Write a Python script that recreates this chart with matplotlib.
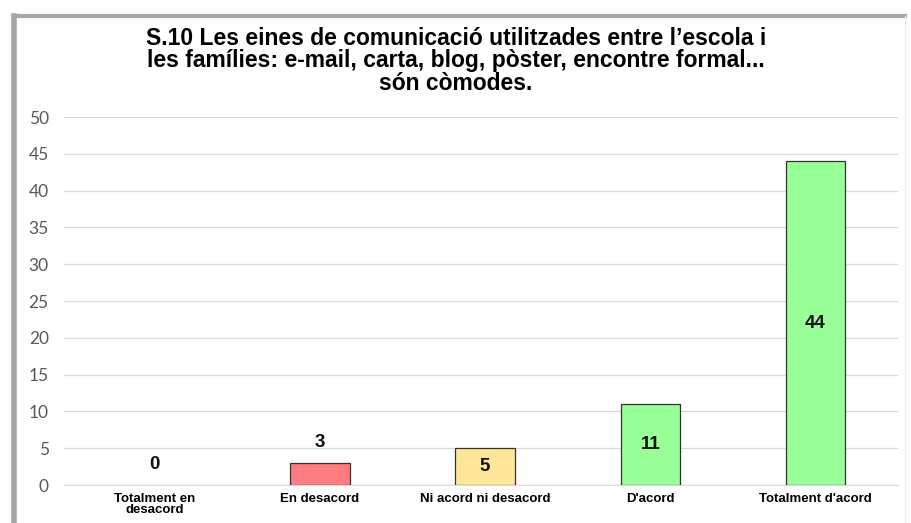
import matplotlib.pyplot as plt
from matplotlib.lines import Line2D

# ===== 数据 =====
categories = ["Totalment en\ndesacord", "En desacord", "Ni acord ni desacord", "D'acord", "Totalment d'acord"]
values = [0, 3, 5, 11, 44]
colors = ["#FF7C80", "#FF7C80", "#FFE699", "#99FF99", "#99FF99"]
inside = [False, False, True, True, True]

title = ("S.10 Les eines de comunicació utilitzades entre l’escola i\n"
         "les famílies: e-mail, carta, blog, pòster, encontre formal...\n"
         "són còmodes.")

fig = plt.figure(figsize=(9.12, 5.23), dpi=100)
ax = fig.add_axes([64 / 912, 1 - 485 / 523, (898 - 64) / 912, (485 - 117) / 523])

x = range(len(values))
bars = ax.bar(x, values, width=0.36, color=colors, edgecolor="#333333", linewidth=0.9, zorder=3)
for b, v in zip(bars, values):
    if v == 0:
        b.set_linewidth(0)

for i, v in enumerate(values):
    if inside[i]:
        ax.text(i, v / 2, str(v), ha="center", va="center", fontsize=13.5,
                fontweight="bold", family="Liberation Sans", color="#111111", zorder=4)
    else:
        ax.text(i, v + 2.8, str(v), ha="center", va="center", fontsize=13.5,
                fontweight="bold", family="Liberation Sans", color="#111111", zorder=4)

ax.set_ylim(0, 50)
ax.set_xlim(-0.55, 4.5)
ax.set_yticks(range(0, 51, 5))
ax.yaxis.grid(True, color="#D9D9D9", linewidth=0.9, zorder=0)
ax.set_xticks(list(x))
ax.set_xticklabels(categories, fontsize=9.5, fontweight="bold", family="Liberation Sans",
                   linespacing=0.9)
for lab in ax.get_yticklabels():
    lab.set_family("Lato")
    lab.set_fontsize(12.5)
    lab.set_color("#595959")
ax.tick_params(axis="both", length=0)
ax.tick_params(axis="y", pad=11)
ax.tick_params(axis="x", pad=6)
for s in ["top", "right", "left"]:
    ax.spines[s].set_visible(False)
ax.spines["bottom"].set_color("#D9D9D9")

fig.text(0.5, 1 - 61 / 523, title, ha="center", va="center", fontsize=16.5,
         fontweight="bold", family="Liberation Sans", linespacing=0.95)

# 图框
fig.add_artist(Line2D([14 / 912, 14 / 912], [0, 1 - 16 / 523], transform=fig.transFigure,
                      color="#A6A6A6", linewidth=4))
fig.add_artist(Line2D([14 / 912, 905 / 912], [1 - 16 / 523, 1 - 16 / 523], transform=fig.transFigure,
                      color="#A6A6A6", linewidth=3))
fig.add_artist(Line2D([905 / 912, 905 / 912], [0, 1 - 16 / 523], transform=fig.transFigure,
                      color="#EDEDED", linewidth=1))

plt.savefig("out.png", dpi=100)
